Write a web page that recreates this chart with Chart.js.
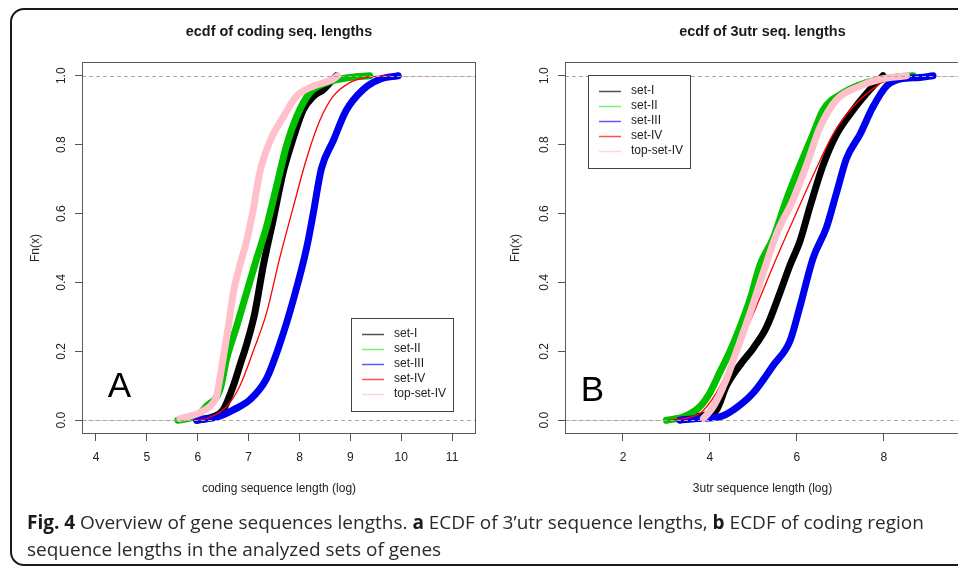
<!DOCTYPE html>
<html>
<head>
<meta charset="utf-8">
<script src="https://cdn.jsdelivr.net/npm/chart.js@4.4.1/dist/chart.umd.min.js"></script>
<style>
html,body{margin:0;padding:0;width:958px;height:568px;overflow:hidden;background:#fff;}
#frame{position:absolute;left:10px;top:8px;width:1000px;height:558px;border:2px solid #1a1a1a;border-radius:14px;box-sizing:border-box;}
#cA{position:absolute;left:0;top:0;}
#cB{position:absolute;left:480px;top:0;}
#caption{position:absolute;left:27px;top:509px;font-family:'Open Sans',sans-serif;font-size:19px;line-height:27px;color:#2a2a2a;white-space:nowrap;}
#caption b{color:#1a1a1a;}
</style>
</head>
<body>
<div id="frame"></div>
<canvas id="cA" width="480" height="510"></canvas>
<canvas id="cB" width="482" height="510"></canvas>
<div id="caption"><b>Fig. 4</b> Overview of gene sequences lengths. <b>a</b> ECDF of 3’utr sequence lengths, <b>b</b> ECDF of coding region<br>sequence lengths in the analyzed sets of genes</div>
<script>
// ---------- data ----------
const seriesNames = ['set-I', 'set-II', 'set-III', 'set-IV', 'top-set-IV'];

const ticksYValues = [0, 0.2, 0.4, 0.6, 0.8, 1.0];
const ticksYLabels = ['0.0', '0.2', '0.4', '0.6', '0.8', '1.0'];

// Panel A: coding sequence length (log)
const codingTicksX = [4, 5, 6, 7, 8, 9, 10, 11];
const codingSetI_x = [5.98, 6.30, 6.50, 6.70, 6.83, 6.96, 7.12, 7.29, 7.48, 7.68, 7.88, 8.07, 8.27, 8.47, 8.60, 8.73];
const codingSetI_F = [0.00, 0.01, 0.03, 0.10, 0.16, 0.22, 0.31, 0.45, 0.58, 0.72, 0.82, 0.90, 0.94, 0.96, 0.98, 1.00];
const codingSetII_x = [5.61, 5.80, 6.00, 6.17, 6.44, 6.57, 6.76, 6.96, 7.16, 7.35, 7.55, 7.75, 7.94, 8.20, 8.53, 8.99, 9.38];
const codingSetII_F = [0.00, 0.005, 0.015, 0.04, 0.09, 0.18, 0.27, 0.37, 0.47, 0.56, 0.68, 0.80, 0.88, 0.95, 0.98, 0.995, 1.00];
const codingSetIII_x = [5.98, 6.40, 6.70, 7.03, 7.35, 7.61, 7.88, 8.14, 8.27, 8.43, 8.66, 8.92, 9.25, 9.58, 9.94];
const codingSetIII_F = [0.00, 0.01, 0.03, 0.06, 0.12, 0.22, 0.35, 0.50, 0.60, 0.73, 0.81, 0.90, 0.96, 0.99, 1.00];
const codingSetIV_x = [5.95, 6.17, 6.57, 6.83, 7.09, 7.35, 7.61, 7.88, 8.14, 8.40, 8.66, 8.99, 9.32, 9.78];
const codingSetIV_F = [0.00, 0.005, 0.04, 0.10, 0.20, 0.31, 0.47, 0.62, 0.76, 0.87, 0.94, 0.98, 0.995, 1.00];
const codingTopSetIV_x = [5.65, 6.01, 6.30, 6.37, 6.50, 6.60, 6.70, 6.83, 6.96, 7.09, 7.22, 7.42, 7.68, 7.94, 8.27, 8.66, 8.75];
const codingTopSetIV_F = [0.005, 0.02, 0.05, 0.07, 0.18, 0.27, 0.37, 0.45, 0.52, 0.61, 0.72, 0.81, 0.88, 0.94, 0.97, 0.99, 1.00];

// Panel B: 3utr sequence length (log)
const utrTicksX = [2, 4, 6, 8];
const utrSetI_x = [3.62, 3.90, 4.15, 4.38, 4.69, 5.00, 5.30, 5.61, 5.84, 6.07, 6.30, 6.60, 6.91, 7.29, 7.68, 7.98];
const utrSetI_F = [0.01, 0.015, 0.03, 0.10, 0.16, 0.21, 0.27, 0.37, 0.45, 0.52, 0.62, 0.74, 0.83, 0.90, 0.96, 1.00];
const utrSetII_x = [3.00, 3.40, 3.77, 4.00, 4.23, 4.46, 4.69, 4.92, 5.15, 5.46, 5.76, 6.07, 6.37, 6.60, 7.06, 7.60, 8.21, 8.67];
const utrSetII_F = [0.00, 0.01, 0.04, 0.08, 0.14, 0.20, 0.27, 0.35, 0.45, 0.53, 0.64, 0.74, 0.83, 0.90, 0.95, 0.98, 0.995, 1.00];
const utrSetIII_x = [3.31, 3.70, 4.23, 4.54, 5.00, 5.46, 5.84, 6.07, 6.37, 6.68, 6.91, 7.14, 7.45, 7.75, 8.06, 8.37, 8.83, 9.13];
const utrSetIII_F = [0.00, 0.005, 0.01, 0.03, 0.08, 0.16, 0.23, 0.33, 0.47, 0.56, 0.66, 0.76, 0.83, 0.91, 0.97, 0.99, 0.995, 1.00];
const utrSetIV_x = [3.08, 3.77, 4.15, 4.54, 5.00, 5.46, 5.91, 6.37, 6.83, 7.29, 7.83, 8.21, 8.52];
const utrSetIV_F = [0.00, 0.02, 0.08, 0.18, 0.31, 0.45, 0.58, 0.71, 0.83, 0.91, 0.97, 0.995, 1.00];
const utrTopSetIV_x = [3.85, 4.08, 4.38, 4.61, 4.92, 5.23, 5.53, 5.91, 6.22, 6.53, 6.91, 7.45, 7.91, 8.52];
const utrTopSetIV_F = [0.005, 0.04, 0.12, 0.20, 0.31, 0.43, 0.54, 0.64, 0.74, 0.85, 0.93, 0.97, 0.99, 1.00];

// ---------- styles ----------
const seriesColors = ['#000000', '#00c000', '#0000f0', '#ff0000', '#ffc0cb'];
const legendColors = ['#505050', '#74ee74', '#5a5aff', '#ff5050', '#ffd4dc'];
const seriesWidths = [7, 7, 7, 1.3, 7];
const seriesOrder = [5, 4, 3, 2, 1];

const FONT = "'Liberation Sans', Arial, Helvetica, sans-serif";
Chart.defaults.font.family = FONT;
Chart.defaults.color = '#222';

function makeDatasets(xsList, fsList) {
  return xsList.map((xs, i) => ({
    label: seriesNames[i],
    data: xs.map((v, j) => ({ x: v, y: fsList[i][j] })),
    showLine: true,
    borderColor: seriesColors[i],
    backgroundColor: seriesColors[i],
    borderWidth: seriesWidths[i],
    pointRadius: 0,
    cubicInterpolationMode: 'monotone',
    borderCapStyle: 'round',
    borderJoinStyle: 'round',
    order: seriesOrder[i]
  }));
}

const rPlot = {
  id: 'rPlot',
  beforeDatasetsDraw(chart) {
    const { ctx, chartArea: a, scales: { x, y } } = chart;
    ctx.save();
    ctx.beginPath(); ctx.rect(a.left, a.top, a.right - a.left, a.bottom - a.top); ctx.clip();
    const y0 = Math.round(y.getPixelForValue(0)) + 0.5;
    const y1 = Math.round(y.getPixelForValue(1)) + 0.5;
    chart.data.datasets.forEach(ds => {
      const d = ds.data;
      ctx.strokeStyle = ds.borderColor; ctx.lineWidth = 1;
      ctx.beginPath(); ctx.moveTo(a.left, y0); ctx.lineTo(x.getPixelForValue(d[0].x), y0); ctx.stroke();
      ctx.beginPath(); ctx.moveTo(x.getPixelForValue(d[d.length - 1].x), y1); ctx.lineTo(a.right, y1); ctx.stroke();
    });
    ctx.restore();
  },
  afterDatasetsDraw(chart, args, o) {
    const { ctx, chartArea: a, scales: { x, y } } = chart;
    ctx.save();
    // dashed reference lines at 0 and 1
    ctx.strokeStyle = '#a8a8a8'; ctx.lineWidth = 1; ctx.setLineDash([4, 3]);
    [0, 1].forEach(v => {
      const py = Math.round(y.getPixelForValue(v)) + 0.5;
      ctx.beginPath(); ctx.moveTo(a.left, py); ctx.lineTo(a.right, py); ctx.stroke();
    });
    ctx.setLineDash([]);
    // plot box
    ctx.strokeStyle = '#5a5a5a'; ctx.lineWidth = 1;
    ctx.strokeRect(a.left + 0.5, a.top + 0.5, a.right - a.left - 1, a.bottom - a.top - 1);
    // rotated y tick labels
    ctx.fillStyle = '#222'; ctx.font = '12px ' + FONT;
    ctx.textAlign = 'center'; ctx.textBaseline = 'middle';
    ticksYValues.forEach((v, i) => {
      ctx.save();
      ctx.translate(a.left - 20, y.getPixelForValue(v));
      ctx.rotate(-Math.PI / 2);
      ctx.fillText(ticksYLabels[i], 0, 0);
      ctx.restore();
    });
    // main title
    ctx.font = 'bold 14.4px ' + FONT; ctx.fillStyle = '#1a1a1a';
    ctx.fillText(o.title, (a.left + a.right) / 2, 32);
    // panel letter
    ctx.font = '35px ' + FONT; ctx.fillStyle = '#000';
    ctx.textBaseline = 'alphabetic';
    ctx.fillText(o.letter.text, x.getPixelForValue(o.letter.x), y.getPixelForValue(o.letter.y));
    // legend
    const L = a.left + o.legend.dx, T = a.top + o.legend.dy, W = 102, H = 93;
    ctx.fillStyle = '#fff'; ctx.fillRect(L, T, W, H);
    ctx.strokeStyle = '#444'; ctx.lineWidth = 1;
    ctx.strokeRect(L + 0.5, T + 0.5, W, H);
    ctx.font = '12px ' + FONT; ctx.textAlign = 'left'; ctx.textBaseline = 'middle';
    seriesNames.forEach((n, i) => {
      const yy = T + 16 + i * 15;
      ctx.strokeStyle = legendColors[i]; ctx.lineWidth = 1.5;
      ctx.beginPath(); ctx.moveTo(L + 11, yy + 0.5); ctx.lineTo(L + 33, yy + 0.5); ctx.stroke();
      ctx.fillStyle = '#222';
      ctx.fillText(n, L + 43, yy);
    });
    ctx.restore();
  }
};

function makeChart(id, cfg) {
  const grid = { display: true, drawOnChartArea: false, drawTicks: true, tickLength: 7, color: '#555', lineWidth: 1 };
  return new Chart(document.getElementById(id), {
    type: 'scatter',
    data: { datasets: makeDatasets(cfg.xs, cfg.fs) },
    plugins: [rPlot],
    options: {
      responsive: false,
      animation: false,
      events: [],
      layout: { padding: { left: 0, top: 62, right: cfg.padRight, bottom: 0 } },
      plugins: {
        legend: { display: false },
        tooltip: { enabled: false },
        rPlot: { title: cfg.title, letter: cfg.letter, legend: cfg.legend }
      },
      scales: {
        x: {
          type: 'linear', min: cfg.xmin, max: cfg.xmax,
          afterBuildTicks: s => { s.ticks = cfg.ticksX.map(v => ({ value: v })); },
          afterFit: s => { s.height = 76; },
          grid: grid, border: { display: false },
          ticks: { padding: 9, font: { size: 12 }, color: '#222', maxRotation: 0, autoSkip: false },
          title: { display: true, text: cfg.xTitle, font: { size: 12 }, color: '#222', padding: { top: 0, bottom: 14 } }
        },
        y: {
          type: 'linear', min: -0.04, max: 1.04,
          afterBuildTicks: s => { s.ticks = ticksYValues.map(v => ({ value: v })); },
          afterFit: s => { s.width = cfg.yWidth; },
          grid: grid, border: { display: false },
          ticks: { display: false },
          title: { display: true, text: 'Fn(x)', font: { size: 12 }, color: '#222', padding: { top: 28, bottom: 0 } }
        }
      }
    }
  });
}

makeChart('cA', {
  xs: [codingSetI_x, codingSetII_x, codingSetIII_x, codingSetIV_x, codingTopSetIV_x],
  fs: [codingSetI_F, codingSetII_F, codingSetIII_F, codingSetIV_F, codingTopSetIV_F],
  xmin: 3.725, xmax: 11.47, ticksX: codingTicksX, yWidth: 82, padRight: 4,
  title: 'ecdf of coding seq. lengths',
  xTitle: 'coding sequence length (log)',
  letter: { text: 'A', x: 4.46, y: 0.067 },
  legend: { dx: 269, dy: 256 }
});

makeChart('cB', {
  xs: [utrSetI_x, utrSetII_x, utrSetIII_x, utrSetIV_x, utrTopSetIV_x],
  fs: [utrSetI_F, utrSetII_F, utrSetIII_F, utrSetIV_F, utrTopSetIV_F],
  xmin: 0.667, xmax: 9.75, ticksX: utrTicksX, yWidth: 85, padRight: 2,
  title: 'ecdf of 3utr seq. lengths',
  xTitle: '3utr sequence length (log)',
  letter: { text: 'B', x: 1.30, y: 0.055 },
  legend: { dx: 23, dy: 13 }
});
</script>
</body>
</html>
